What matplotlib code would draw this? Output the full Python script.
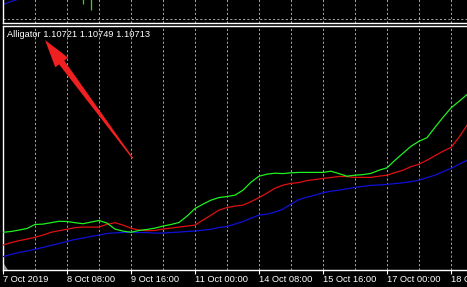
import matplotlib
matplotlib.use("Agg")
import matplotlib.pyplot as plt
from matplotlib.patches import Polygon
import numpy as np

plt.rcParams['font.family'] = ['Liberation Sans', 'DejaVu Sans']

# ---------------- data (H4 bars, EURUSD-like prices) ----------------
tick_labels = ["7 Oct 2019", "8 Oct 08:00", "9 Oct 16:00", "11 Oct 00:00",
               "14 Oct 08:00", "15 Oct 16:00", "17 Oct 00:00", "18 Oct 08:00"]

# Alligator lips (green)
lips = [1.09689, 1.09693, 1.09700, 1.09708, 1.09728, 1.09730, 1.09737, 1.09744,
        1.09743, 1.09737, 1.09732, 1.09740, 1.09748, 1.09735, 1.09705, 1.09695,
        1.09689, 1.09698, 1.09703, 1.09710, 1.09720, 1.09728, 1.09738, 1.09770,
        1.09808, 1.09830, 1.09850, 1.09863, 1.09868, 1.09875, 1.09900, 1.09940,
        1.09970, 1.09980, 1.09985, 1.09983, 1.09987, 1.09989, 1.09989, 1.09989,
        1.09989, 1.09995, 1.09983, 1.09970, 1.09975, 1.09978, 1.09984, 1.10000,
        1.10012, 1.10050, 1.10085, 1.10120, 1.10145, 1.10163, 1.10215, 1.10265,
        1.10312, 1.10345, 1.10379]

# Alligator teeth (red)
teeth = [1.09625, 1.09637, 1.09647, 1.09655, 1.09664, 1.09675, 1.09689, 1.09697,
         1.09704, 1.09712, 1.09715, 1.09715, 1.09715, 1.09729, 1.09737, 1.09725,
         1.09709, 1.09700, 1.09697, 1.09698, 1.09705, 1.09710, 1.09715, 1.09720,
         1.09725, 1.09750, 1.09775, 1.09800, 1.09813, 1.09820, 1.09825, 1.09842,
         1.09863, 1.09885, 1.09910, 1.09925, 1.09934, 1.09938, 1.09948, 1.09953,
         1.09959, 1.09963, 1.09969, 1.09968, 1.09964, 1.09964, 1.09964, 1.09970,
         1.09975, 1.09988, 1.10000, 1.10018, 1.10030, 1.10050, 1.10073, 1.10095,
         1.10114, 1.10165, 1.10225]

# Alligator jaw (blue)
jaw = [1.09567, 1.09578, 1.09588, 1.09595, 1.09604, 1.09613, 1.09623, 1.09633,
       1.09643, 1.09653, 1.09660, 1.09668, 1.09675, 1.09683, 1.09686, 1.09688,
       1.09689, 1.09688, 1.09687, 1.09685, 1.09685, 1.09688, 1.09690, 1.09693,
       1.09695, 1.09700, 1.09704, 1.09713, 1.09718, 1.09730, 1.09743, 1.09760,
       1.09775, 1.09780, 1.09790, 1.09805, 1.09830, 1.09853, 1.09865, 1.09875,
       1.09887, 1.09895, 1.09900, 1.09907, 1.09914, 1.09919, 1.09924, 1.09926,
       1.09929, 1.09933, 1.09937, 1.09943, 1.09950, 1.09963, 1.09975, 1.09993,
       1.10009, 1.10030, 1.10050]

# upper (price) pane fragments visible at the top
top_ma = [1.09837, 1.09843, 1.09848]
candle_idx = [10, 11]
candle_low = [1.09838, 1.09826]
candle_high = [1.09860, 1.09860]
top_level = 1.09808

legend_text = "Alligator 1.10721 1.10749 1.10713"

# ---------------- layout helpers ----------------
W, H = 467, 287
fig = plt.figure(figsize=(W / 100, H / 100), dpi=100, facecolor='black')


def px_axes(x0, y0, x1, y1):
    return fig.add_axes([x0 / W, 1 - y1 / H, (x1 - x0) / W, (y1 - y0) / H])


grid_kw = dict(color='#a8a8a8', linestyle=(0, (2.2, 2.2)), linewidth=0.7)
x = np.arange(len(lips))


def style_axes(a):
    a.set_facecolor('black')
    a.set_xlim(0, 59)
    for s in a.spines.values():
        s.set_color('white')
        s.set_linewidth(1.0)
    a.spines['right'].set_visible(False)
    a.set_xticks(np.arange(0, 57, 8))
    a.set_xticks(np.arange(4, 59, 4), minor=True)
    a.grid(which='both', axis='x', **grid_kw)
    a.set_yticks([])
    a.tick_params(which='minor', length=0)


# ---------------- top pane ----------------
axt = px_axes(3, -5, 475, 23)
style_axes(axt)
axt.set_ylim(1.09800, 1.09856)
axt.spines['top'].set_visible(False)
axt.tick_params(which='major', length=0, labelbottom=False)
axt.axhline(top_level, **grid_kw)
axt.plot(np.arange(len(top_ma)), top_ma, color='#1515c8', lw=0.9)
axt.vlines(candle_idx, candle_low, candle_high, color='#20e020', lw=0.9)

# ---------------- indicator pane ----------------
ax = px_axes(3, 25.5, 475, 270)
style_axes(ax)
ax.set_ylim(1.09500, 1.10725)
ax.plot(x, jaw, color='#1010d8', lw=0.9, zorder=3)
ax.plot(x, teeth, color='#e01010', lw=0.9, zorder=4)
ax.plot(x, lips, color='#20f020', lw=0.9, zorder=5)

ax.set_xticklabels(tick_labels)
for lab in ax.get_xticklabels():
    lab.set_horizontalalignment('left')
ax.tick_params(which='major', axis='x', colors='white', length=3, width=0.8,
               pad=0.8, labelsize=6.7)

# shift marker
fig.patches.append(Polygon([(3.5 / W, 1 - 264 / H), (3.5 / W, 1 - 269.5 / H),
                            (7.5 / W, 1 - 269.5 / H)], closed=True,
                           transform=fig.transFigure, facecolor='#9a9a9a',
                           edgecolor='none'))

# legend text
fig.text(7 / W, 1 - 37 / H, legend_text, color='white', fontsize=6.7,
         ha='left', va='baseline')

# red annotation arrow (tapered)
tip = np.array([45.0, 40.0])
tail = np.array([132.7, 158.3])
u = (tip - tail) / np.linalg.norm(tip - tail)
n = np.array([-u[1], u[0]])
base = tip - u * 28
pts = [tip, base + n * 8, base + n * 3.2, tail + n * 0.6, tail - n * 0.6,
       base - n * 3.2, base - n * 8]
fig.patches.append(Polygon([(p[0] / W, 1 - p[1] / H) for p in pts], closed=True,
                           transform=fig.transFigure, facecolor='#f02020',
                           edgecolor='none', zorder=10))

fig.savefig('out.png', dpi=100, facecolor='black')
